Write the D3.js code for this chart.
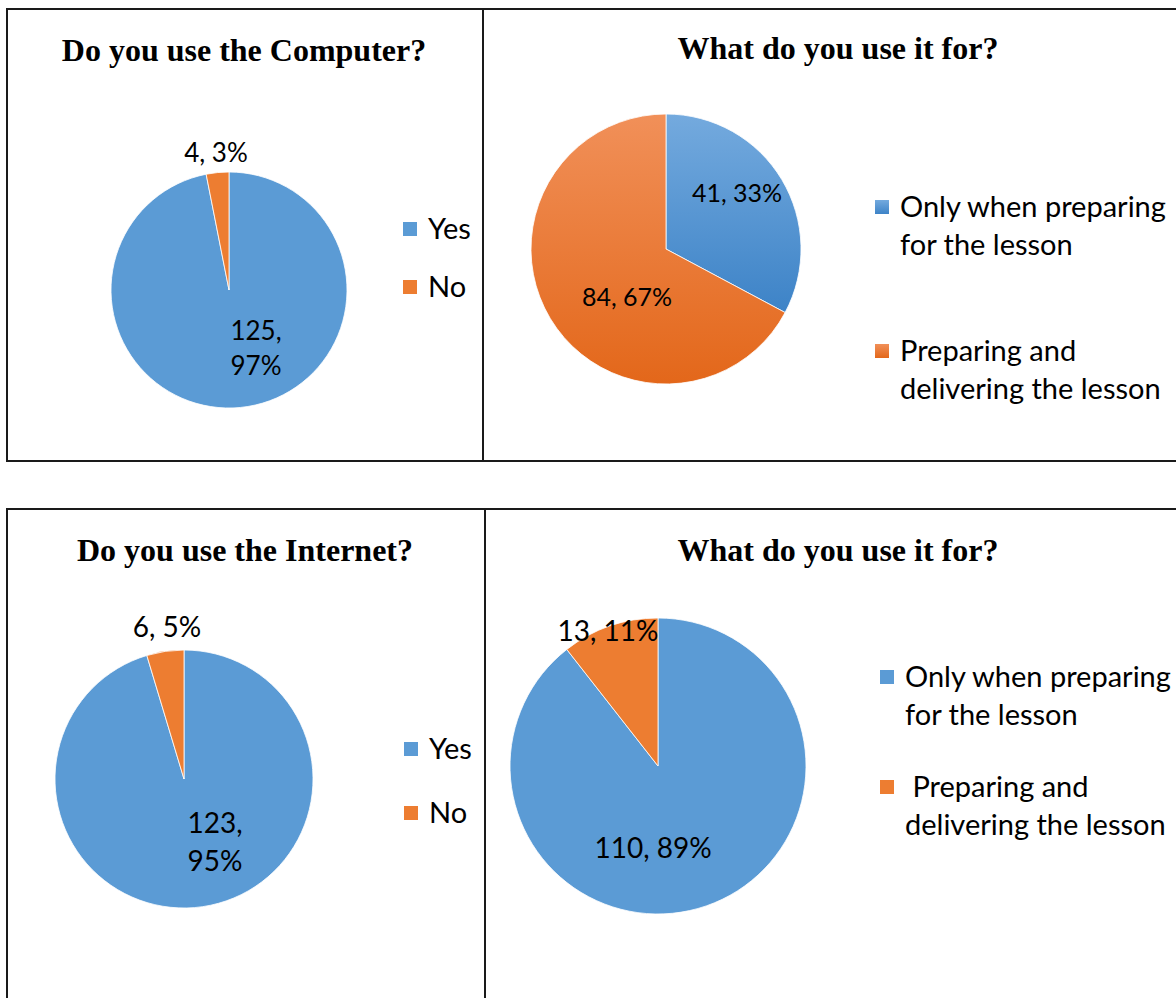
<!DOCTYPE html>
<html>
<head>
<meta charset="utf-8">
<script src="https://cdn.jsdelivr.net/npm/d3@7"></script>
<style>
  html, body { margin: 0; padding: 0; background: #fff; }
  svg { display: block; }
</style>
</head>
<body>
<svg id="chart" width="1176" height="998"></svg>
<script>
// ---- data ----
const computerCats = ["Yes", "No"];
const computerVals = [125, 4];
const computerPcts = ["97%", "3%"];

const computerUseCats = ["Only when preparing for the lesson", "Preparing and delivering the lesson"];
const computerUseVals = [41, 84];
const computerUsePcts = ["33%", "67%"];

const internetCats = ["Yes", "No"];
const internetVals = [123, 6];
const internetPcts = ["95%", "5%"];

const internetUseCats = ["Only when preparing for the lesson", " Preparing and delivering the lesson"];
const internetUseVals = [110, 13];
const internetUsePcts = ["89%", "11%"];

const titles = ["Do you use the Computer?", "What do you use it for?", "Do you use the Internet?", "What do you use it for?"];

const BLUE = "#5b9bd5", ORANGE = "#ed7d31";
const labelFont = "Lato, 'Open Sans', sans-serif";

const svg = d3.select("#chart");
const defs = svg.append("defs");

// gradient fills for the shaded pie
function grad(id, c1, c2) {
  const g = defs.append("linearGradient").attr("id", id)
    .attr("x1", 0).attr("y1", 0).attr("x2", 0).attr("y2", 1)
    .attr("gradientUnits", "objectBoundingBox");
  g.append("stop").attr("offset", "0%").attr("stop-color", c1);
  g.append("stop").attr("offset", "100%").attr("stop-color", c2);
}
grad("gBlue", "#74aade", "#3d83c7");
grad("gOrange", "#f19059", "#e3671a");

// ---- panel frames ----
const frame = svg.append("g").attr("fill", "none").attr("stroke", "#1a1a1a").attr("stroke-width", 2);
frame.append("rect").attr("x", 7).attr("y", 9).attr("width", 1180).attr("height", 452);
frame.append("line").attr("x1", 483).attr("x2", 483).attr("y1", 9).attr("y2", 461);
frame.append("rect").attr("x", 7).attr("y", 509).attr("width", 1180).attr("height", 500);
frame.append("line").attr("x1", 485).attr("x2", 485).attr("y1", 509).attr("y2", 1000);

// ---- titles ----
const titlePos = [[244, 61], [838, 59], [245, 561], [838, 561]];
titles.forEach((t, i) => {
  svg.append("text")
    .attr("x", titlePos[i][0]).attr("y", titlePos[i][1])
    .attr("text-anchor", "middle")
    .attr("font-family", "'Liberation Serif', 'Times New Roman', serif")
    .attr("font-weight", "bold")
    .attr("font-size", 32)
    .attr("fill", "#000")
    .text(t);
});

// ---- pie helper ----
function drawPie(opts) {
  const { cx, cy, r, vals, pcts, fills, labels, fontSize, lineStep } = opts;
  const pie = d3.pie().sort(null).value(d => d)(vals);
  const arc = d3.arc().innerRadius(0).outerRadius(r);
  const g = svg.append("g").attr("transform", `translate(${cx},${cy})`);
  g.selectAll("path").data(pie).join("path")
    .attr("d", arc)
    .attr("fill", (d, i) => fills[i])
    .attr("stroke", "#fff")
    .attr("stroke-width", 0.8);
  // data labels: "value, pct"
  pie.forEach((d, i) => {
    const L = labels[i];
    const lines = L.wrap ? [vals[i] + ",", pcts[i]] : [vals[i] + ", " + pcts[i]];
    const t = g.append("text")
      .attr("text-anchor", "middle")
      .attr("font-family", labelFont)
      .attr("font-size", fontSize)
      .attr("fill", "#000");
    lines.forEach((ln, k) => {
      t.append("tspan").attr("x", L.dx).attr("y", L.dy + k * lineStep + fontSize * 0.35).text(ln);
    });
  });
}

function drawLegend(opts) {
  const { x, ys, lines, fills, lineGap } = opts;
  lines.forEach((ls, i) => {
    svg.append("rect")
      .attr("x", x).attr("y", ys[i] - 7)
      .attr("width", 14).attr("height", 14)
      .attr("fill", fills[i]);
    const t = svg.append("text")
      .attr("font-family", labelFont)
      .attr("font-size", 29)
      .attr("fill", "#000");
    ls.forEach((ln, k) => {
      t.append("tspan").attr("x", x + 25).attr("y", ys[i] + k * lineGap + 10)
        .attr("xml:space", "preserve").text(ln);
    });
  });
}

function splitLegend(s) {
  // two-line legend entries, broken before "for"/"delivering"
  const m = s.match(/^(.*?)\s(for the lesson|delivering the lesson)$/);
  return m ? [m[1], m[2]] : [s];
}

// Panel 1: computer use
drawPie({
  cx: 229, cy: 290, r: 118,
  vals: computerVals, pcts: computerPcts,
  fills: [BLUE, ORANGE], fontSize: 26, lineStep: 35,
  labels: [{ dx: 27, dy: 41, wrap: true }, { dx: -13, dy: -137, wrap: false }]
});
drawLegend({ x: 403, ys: [229, 287], lines: computerCats.map(c => [c]), fills: [BLUE, ORANGE], lineGap: 38 });

// Panel 2: purpose of computer use (shaded)
drawPie({
  cx: 666, cy: 249, r: 135,
  vals: computerUseVals, pcts: computerUsePcts,
  fills: ["url(#gBlue)", "url(#gOrange)"], fontSize: 25, lineStep: 35,
  labels: [{ dx: 71, dy: -56, wrap: false }, { dx: -39, dy: 48, wrap: false }]
});
drawLegend({ x: 875, ys: [207, 351], lines: computerUseCats.map(splitLegend), fills: ["url(#gBlue)", "url(#gOrange)"], lineGap: 38 });

// Panel 3: internet use
drawPie({
  cx: 184, cy: 779, r: 129,
  vals: internetVals, pcts: internetPcts,
  fills: [BLUE, ORANGE], fontSize: 28, lineStep: 38,
  labels: [{ dx: 31, dy: 44, wrap: true }, { dx: -17, dy: -152, wrap: false }]
});
drawLegend({ x: 404, ys: [749, 813], lines: internetCats.map(c => [c]), fills: [BLUE, ORANGE], lineGap: 38 });

// Panel 4: purpose of internet use
drawPie({
  cx: 658, cy: 766, r: 148,
  vals: internetUseVals, pcts: internetUsePcts,
  fills: [BLUE, ORANGE], fontSize: 28, lineStep: 38,
  labels: [{ dx: -5, dy: 82, wrap: false }, { dx: -50, dy: -135, wrap: false }]
});
drawLegend({ x: 880, ys: [677, 787], lines: internetUseCats.map(splitLegend), fills: [BLUE, ORANGE], lineGap: 38 });
</script>
</body>
</html>
